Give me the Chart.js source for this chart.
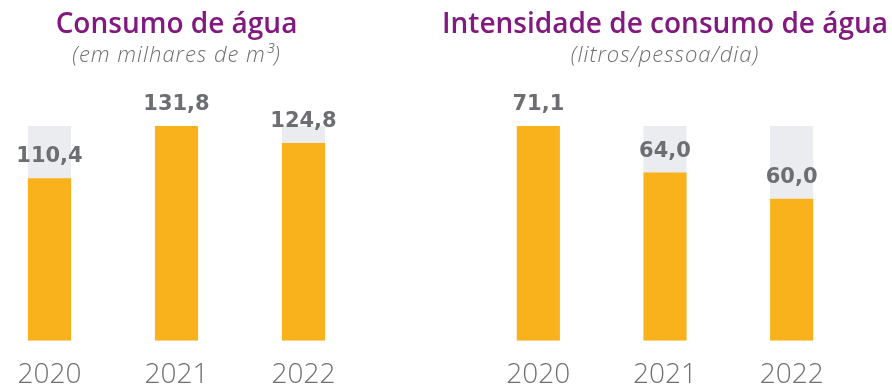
<!DOCTYPE html>
<html lang="pt-BR">
<head>
<meta charset="utf-8">
<title>Consumo de água</title>
<script src="https://cdn.jsdelivr.net/npm/chart.js@4.4.0/dist/chart.umd.min.js"></script>
<style>
  html, body { margin: 0; padding: 0; background: #fff; overflow: hidden; }
  body { width: 892px; height: 387px; position: relative; }
  canvas { position: absolute; top: 0; }
  #consumo { left: -60px; }
  #intensidade { left: 438px; }
</style>
</head>
<body>
<canvas id="consumo" width="473" height="410"></canvas>
<canvas id="intensidade" width="454" height="410"></canvas>
<script>
const anos = ['2020', '2021', '2022'];
const consumo = [110.4, 131.8, 124.8];
const consumoFundo = [131.8, 131.8, 131.8];
const intensidade = [71.1, 64.0, 60.0];
const intensidadeFundo = [71.1, 71.1, 71.1];

const laranja = '#F9B21B';
const cinzaFundo = '#EBECF0';
const roxo = '#82197F';
const cinzaTexto = '#6D6E71';

// valor escrito acima de cada barra laranja
const rotulos = {
  id: 'rotulos',
  afterDatasetsDraw(chart) {
    const ctx = chart.ctx;
    const meta = chart.getDatasetMeta(0);
    const dados = chart.data.datasets[0].data;
    ctx.save();
    ctx.font = 'bold 21px "DejaVu Sans"';
    ctx.fillStyle = cinzaTexto;
    ctx.textAlign = 'center';
    ctx.textBaseline = 'alphabetic';
    meta.data.forEach((bar, i) => {
      ctx.fillText(dados[i].toFixed(1).replace('.', ','), bar.x, bar.y - 16);
    });
    ctx.restore();
  }
};

// título e subtítulo centrados no canvas, sem largura máxima
const cabecalho = {
  id: 'cabecalho',
  afterDraw(chart, args, opts) {
    const ctx = chart.ctx;
    const cx = chart.width / 2;
    ctx.save();
    ctx.textAlign = 'center';
    ctx.textBaseline = 'alphabetic';
    ctx.fillStyle = roxo;
    ctx.font = '600 28px "Open Sans"';
    ctx.fillText(opts.titulo, cx, 33);
    ctx.fillStyle = cinzaTexto;
    ctx.font = 'italic 300 22px "Open Sans"';
    ctx.letterSpacing = '1px';
    ctx.fillText(opts.subtitulo, cx, 61.5);
    ctx.restore();
  }
};

function grafico(id, valores, fundo, min, max, titulo, subtitulo, pad) {
  return new Chart(document.getElementById(id), {
    type: 'bar',
    data: {
      labels: anos,
      datasets: [
        { data: valores, backgroundColor: laranja, order: 0 },
        { data: fundo, backgroundColor: cinzaFundo, order: 1 }
      ]
    },
    options: {
      responsive: false,
      animation: false,
      layout: { padding: { left: pad, right: pad, top: 126, bottom: 0 } },
      datasets: { bar: { grouped: false, categoryPercentage: 1, barPercentage: 0.34 } },
      scales: {
        x: {
          grid: { display: false, drawTicks: false },
          border: { display: false },
          ticks: { padding: 18, color: '#707070', font: { family: '"Open Sans"', size: 28, weight: 300 } }
        },
        y: { display: false, min: min, max: max }
      },
      plugins: {
        legend: { display: false },
        tooltip: { enabled: false },
        cabecalho: { titulo: titulo, subtitulo: subtitulo }
      }
    },
    plugins: [rotulos, cabecalho]
  });
}

grafico('consumo', consumo, consumoFundo, 44, 131.8, 'Consumo de água', '(em milhares de m³)', 46);
grafico('intensidade', intensidade, intensidadeFundo, 38.4, 71.1, 'Intensidade de consumo de água', '(litros/pessoa/dia)', 37);
</script>
</body>
</html>
